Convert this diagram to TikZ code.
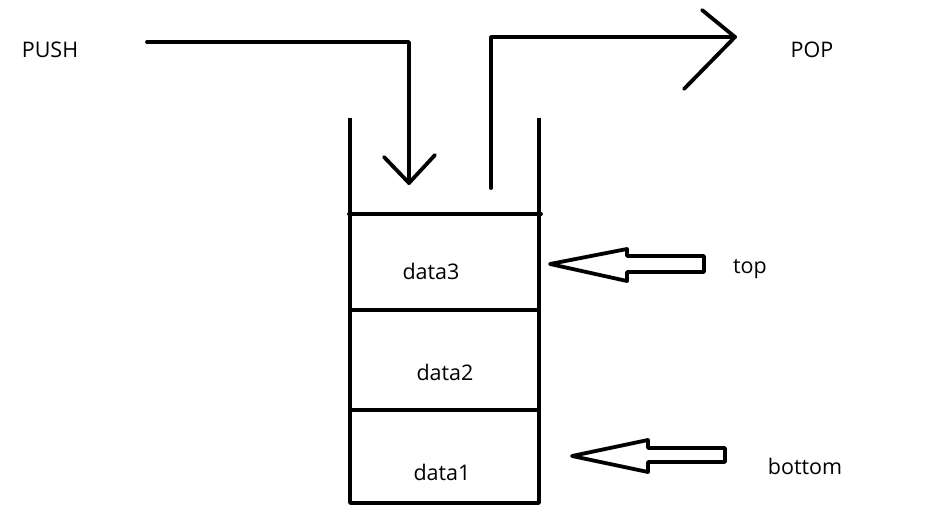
\documentclass[tikz,border=0pt]{standalone}
\usepackage{fontspec}
\setmainfont{Open Sans}
\begin{document}
\begin{tikzpicture}[x=1pt,y=-1pt,
  stroke/.style={line width=3.8pt,line cap=round,line join=round},
  lbl/.style={font=\fontsize{21.5}{25}\selectfont,inner sep=0pt}]
\useasboundingbox[fill=white] (0,0) rectangle (928,524);
% labels
\node[lbl] (push) at (50,50) {PUSH};
\node[lbl] (pop) at (812,50) {POP};
\node[lbl] (d3) at (431,271) {data3};
\node[lbl] (d2) at (445,372) {data2};
\node[lbl] (d1) at (442,472) {data1};
\node[lbl] (toplbl) at (750,269) {top};
\node[lbl] (botlbl) at (805,466) {bottom};
% stack
\coordinate (lt) at (350,118);
\coordinate (rt) at (539,118);
\coordinate (lb) at (350,503);
\coordinate (rb) at (539,503);
\draw[stroke,line cap=butt] (lt) -- (lb) -- (rb) -- (rt);
\draw[stroke] (349,214) -- (541,214);
\draw[stroke,line cap=butt] (350,310) -- (539,310);
\draw[stroke,line cap=butt] (350,410) -- (539,410);
% push arrow
\coordinate (ps) at (147,42);
\coordinate (pc) at (409,42);
\coordinate (pe) at (409,183);
\draw[stroke] (ps) -- (pc) -- (pe);
\draw[stroke] (384,157) -- (pe) -- (435,155);
% pop arrow
\coordinate (os) at (491,188);
\coordinate (oc) at (491,37);
\coordinate (oe) at (735,37);
\draw[stroke] (os) -- (oc) -- (oe);
\draw[stroke] (702,10) -- (oe) -- (684,89);
% top hollow arrow
\draw[stroke] (550,264) -- (627,249) -- (627,256) -- (704,256) -- (704,272) -- (627,272) -- (627,281) -- cycle;
% bottom hollow arrow
\draw[stroke] (572,456) -- (648,440) -- (648,448) -- (725,448) -- (725,462) -- (648,462) -- (648,472) -- cycle;
\end{tikzpicture}
\end{document}
